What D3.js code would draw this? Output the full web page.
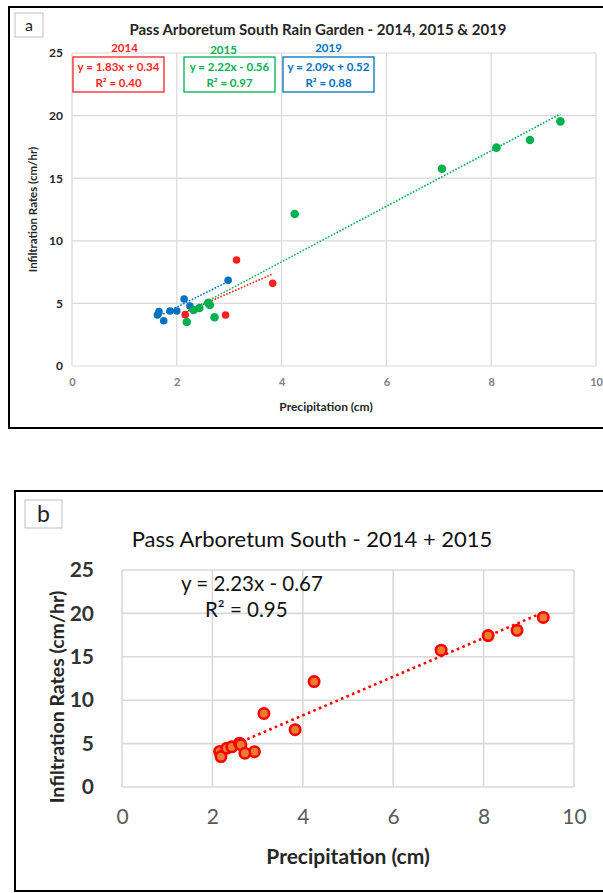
<!DOCTYPE html>
<html>
<head>
<meta charset="utf-8">
<title>Pass Arboretum South Rain Garden</title>
<style>
  body { margin: 0; background: #fff; }
  svg { display: block; font-family: Lato, "Open Sans", sans-serif; }
</style>
</head>
<body>
<div id="chart"></div>
<script src="https://cdn.jsdelivr.net/npm/d3@7"></script>
<script>
// values
var x2014 = [2.16, 2.93, 3.14, 3.83];
var y2014 = [4.10, 4.07, 8.47, 6.60];
var x2015 = [2.19, 2.32, 2.43, 2.60, 2.63, 2.72, 4.25, 7.06, 8.10, 8.74, 9.32];
var y2015 = [3.51, 4.47, 4.63, 5.05, 4.87, 3.89, 12.14, 15.76, 17.44, 18.05, 19.54];
var x2019 = [1.63, 1.66, 1.75, 1.87, 2.00, 2.14, 2.25, 2.98];
var y2019 = [4.07, 4.34, 3.62, 4.39, 4.39, 5.35, 4.79, 6.84];

var years = ['2014', '2015', '2019'];
var slopes = [1.83, 2.22, 2.09];
var intercepts = [0.34, -0.56, 0.52];
var r2 = ['0.40', '0.97', '0.88'];
var eqLabels = ['y = 1.83x + 0.34', 'y = 2.22x - 0.56', 'y = 2.09x + 0.52'];
var colors = ['#ff1f1f', '#00b050', '#0070c0'];

// 2014 + 2015 combined (panel b)
var xAll = x2014.concat(x2015);
var yAll = y2014.concat(y2015);
var slopeAll = 2.23, interceptAll = -0.67;

var xTicks = [0, 2, 4, 6, 8, 10];
var yTicks = [0, 5, 10, 15, 20, 25];

var svg = d3.select('#chart').append('svg')
  .attr('width', 603).attr('height', 893);

function pts(xs, ys) {
  return xs.map(function(x, i) { return { x: x, y: ys[i] }; });
}

// ---------- panel a ----------
var ga = svg.append('g');
ga.append('rect').attr('x', 9).attr('y', 7).attr('width', 620).attr('height', 421)
  .attr('fill', 'none').attr('stroke', '#000').attr('stroke-width', 2);
ga.append('rect').attr('x', 15).attr('y', 13).attr('width', 28).attr('height', 24)
  .attr('fill', '#fff').attr('stroke', '#bfbfbf').attr('stroke-width', 1);
ga.append('text').attr('x', 29).attr('y', 31).attr('text-anchor', 'middle')
  .attr('font-size', 16).attr('fill', '#222').text('a');

var xa = d3.scaleLinear().domain([0, 10]).range([72, 596]);
var ya = d3.scaleLinear().domain([0, 25]).range([366, 53]);

ga.selectAll('.vg').data(xTicks).enter().append('line')
  .attr('x1', function(d) { return xa(d); }).attr('x2', function(d) { return xa(d); })
  .attr('y1', ya(0)).attr('y2', ya(25))
  .attr('stroke', '#d9d9d9').attr('stroke-width', 1.2);
ga.selectAll('.hg').data(yTicks).enter().append('line')
  .attr('x1', xa(0)).attr('x2', xa(10))
  .attr('y1', function(d) { return ya(d); }).attr('y2', function(d) { return ya(d); })
  .attr('stroke', '#d9d9d9').attr('stroke-width', 1.2);

var ayA = ga.append('g').attr('transform', 'translate(' + (xa(0) - 9) + ',0)')
  .call(d3.axisLeft(ya).tickValues(yTicks).tickSize(0).tickPadding(0));
ayA.select('.domain').remove();
ayA.selectAll('text').attr('font-family', 'Lato').attr('font-size', 12)
  .attr('font-weight', 'bold').attr('fill', '#262626');

var axA = ga.append('g').attr('transform', 'translate(0,' + (ya(0) + 12) + ')')
  .call(d3.axisBottom(xa).tickValues(xTicks).tickSize(0).tickPadding(0));
axA.select('.domain').remove();
axA.selectAll('text').attr('font-family', 'Lato').attr('font-size', 11)
  .attr('font-weight', 'bold').attr('fill', '#808080');

ga.append('text').attr('x', 326).attr('y', 411).attr('text-anchor', 'middle')
  .attr('font-size', 12).attr('font-weight', 'bold').attr('fill', '#262626')
  .text('Precipitation (cm)');
ga.append('text').attr('transform', 'translate(37,' + ya(12.5) + ') rotate(-90)')
  .attr('text-anchor', 'middle').attr('font-size', 11.5).attr('font-weight', 'bold')
  .attr('fill', '#262626').text('Infiltration Rates (cm/hr)');
ga.append('text').attr('x', 318).attr('y', 35).attr('text-anchor', 'middle')
  .attr('font-size', 15).attr('font-weight', 'bold').attr('fill', '#262626')
  .text('Pass Arboretum South Rain Garden - 2014, 2015 & 2019');

// trend lines
var seriesA = [pts(x2014, y2014), pts(x2015, y2015), pts(x2019, y2019)];
seriesA.forEach(function(s, i) {
  var ext = d3.extent(s, function(d) { return d.x; });
  ga.append('line')
    .attr('x1', xa(ext[0])).attr('y1', ya(slopes[i] * ext[0] + intercepts[i]))
    .attr('x2', xa(ext[1])).attr('y2', ya(slopes[i] * ext[1] + intercepts[i]))
    .attr('stroke', colors[i]).attr('stroke-width', 1.6)
    .attr('stroke-dasharray', '1.6,1.6');
});
// points (2019 first, then 2014, 2015 on top)
[2, 0, 1].forEach(function(i) {
  ga.selectAll('.p' + i).data(seriesA[i]).enter().append('circle')
    .attr('cx', function(d) { return xa(d.x); })
    .attr('cy', function(d) { return ya(d.y); })
    .attr('r', i === 1 ? 4.3 : 3.8)
    .attr('fill', colors[i]);
});

// equation boxes
var boxX = [73, 184, 283], boxW = 91;
var headDx = [6, -6, 0];
years.forEach(function(yr, i) {
  var cx = boxX[i] + boxW / 2;
  ga.append('text').attr('x', cx + headDx[i]).attr('y', 52 + (i === 1 ? 2 : 0)).attr('text-anchor', 'middle')
    .attr('font-size', 11.5).attr('font-weight', 'bold').attr('fill', colors[i]).text(yr);
  ga.append('rect').attr('x', boxX[i]).attr('y', 57).attr('width', boxW).attr('height', 35)
    .attr('fill', '#fff').attr('stroke', colors[i]).attr('stroke-width', 1.3);
  ga.append('text').attr('x', cx).attr('y', 71).attr('text-anchor', 'middle')
    .attr('font-size', 11.5).attr('font-weight', 'bold').attr('fill', colors[i]).text(eqLabels[i]);
  ga.append('text').attr('x', cx).attr('y', 87).attr('text-anchor', 'middle')
    .attr('font-size', 11.5).attr('font-weight', 'bold').attr('fill', colors[i])
    .text('R\u00b2 = ' + r2[i]);
});

// ---------- panel b ----------
var gb = svg.append('g');
gb.append('rect').attr('x', 15).attr('y', 491).attr('width', 620).attr('height', 400)
  .attr('fill', 'none').attr('stroke', '#000').attr('stroke-width', 2);
gb.append('rect').attr('x', 25).attr('y', 500).attr('width', 37).attr('height', 28)
  .attr('fill', '#fff').attr('stroke', '#bfbfbf').attr('stroke-width', 1);
gb.append('text').attr('x', 43.5).attr('y', 522).attr('text-anchor', 'middle')
  .attr('font-size', 23).attr('fill', '#222').text('b');

var xb = d3.scaleLinear().domain([0, 10]).range([122, 574]);
var yb = d3.scaleLinear().domain([0, 25]).range([787, 570]);

gb.selectAll('.vg').data(xTicks).enter().append('line')
  .attr('x1', function(d) { return xb(d); }).attr('x2', function(d) { return xb(d); })
  .attr('y1', yb(0)).attr('y2', yb(25))
  .attr('stroke', '#d9d9d9').attr('stroke-width', 1.6);
gb.selectAll('.hg').data(yTicks).enter().append('line')
  .attr('x1', xb(0)).attr('x2', xb(10))
  .attr('y1', function(d) { return yb(d); }).attr('y2', function(d) { return yb(d); })
  .attr('stroke', '#d9d9d9').attr('stroke-width', 1.6);

var ayB = gb.append('g').attr('transform', 'translate(' + (xb(0) - 28) + ',0)')
  .call(d3.axisLeft(yb).tickValues(yTicks).tickSize(0).tickPadding(0));
ayB.select('.domain').remove();
ayB.selectAll('text').attr('font-family', 'Lato').attr('font-size', 21)
  .attr('font-weight', 'bold').attr('fill', '#333');

var axB = gb.append('g').attr('transform', 'translate(0,' + (yb(0) + 22) + ')')
  .call(d3.axisBottom(xb).tickValues(xTicks).tickSize(0).tickPadding(0));
axB.select('.domain').remove();
axB.selectAll('text').attr('font-family', 'Lato').attr('font-size', 21)
  .attr('fill', '#595959');

gb.append('text').attr('x', 348).attr('y', 864).attr('text-anchor', 'middle')
  .attr('font-size', 21).attr('font-weight', 'bold').attr('fill', '#262626')
  .text('Precipitation (cm)');
gb.append('text').attr('transform', 'translate(64,697) rotate(-90)')
  .attr('text-anchor', 'middle').attr('font-size', 19.5).attr('font-weight', 'bold')
  .attr('fill', '#262626').text('Infiltration Rates (cm/hr)');
gb.append('text').attr('x', 312).attr('y', 547).attr('text-anchor', 'middle')
  .attr('font-size', 22).attr('fill', '#111')
  .text('Pass Arboretum South - 2014 + 2015');

gb.append('text').attr('x', 181).attr('y', 591).attr('font-size', 20.5).attr('fill', '#111')
  .text('y = ' + slopeAll + 'x - ' + Math.abs(interceptAll));
gb.append('text').attr('x', 205).attr('y', 617).attr('font-size', 20.5).attr('fill', '#111')
  .text('R\u00b2 = 0.95');

var ptsB = pts(xAll, yAll);
var extB = d3.extent(ptsB, function(d) { return d.x; });
gb.append('line')
  .attr('x1', xb(extB[0])).attr('y1', yb(slopeAll * extB[0] + interceptAll))
  .attr('x2', xb(extB[1])).attr('y2', yb(slopeAll * extB[1] + interceptAll))
  .attr('stroke', '#ff0000').attr('stroke-width', 2.6)
  .attr('stroke-dasharray', '2.6,3.4');
gb.selectAll('.pb').data(ptsB).enter().append('circle')
  .attr('cx', function(d) { return xb(d.x); })
  .attr('cy', function(d) { return yb(d.y); })
  .attr('r', 5.2)
  .attr('fill', '#ed7d31').attr('stroke', '#ff0000').attr('stroke-width', 2.6);
</script>
</body>
</html>
